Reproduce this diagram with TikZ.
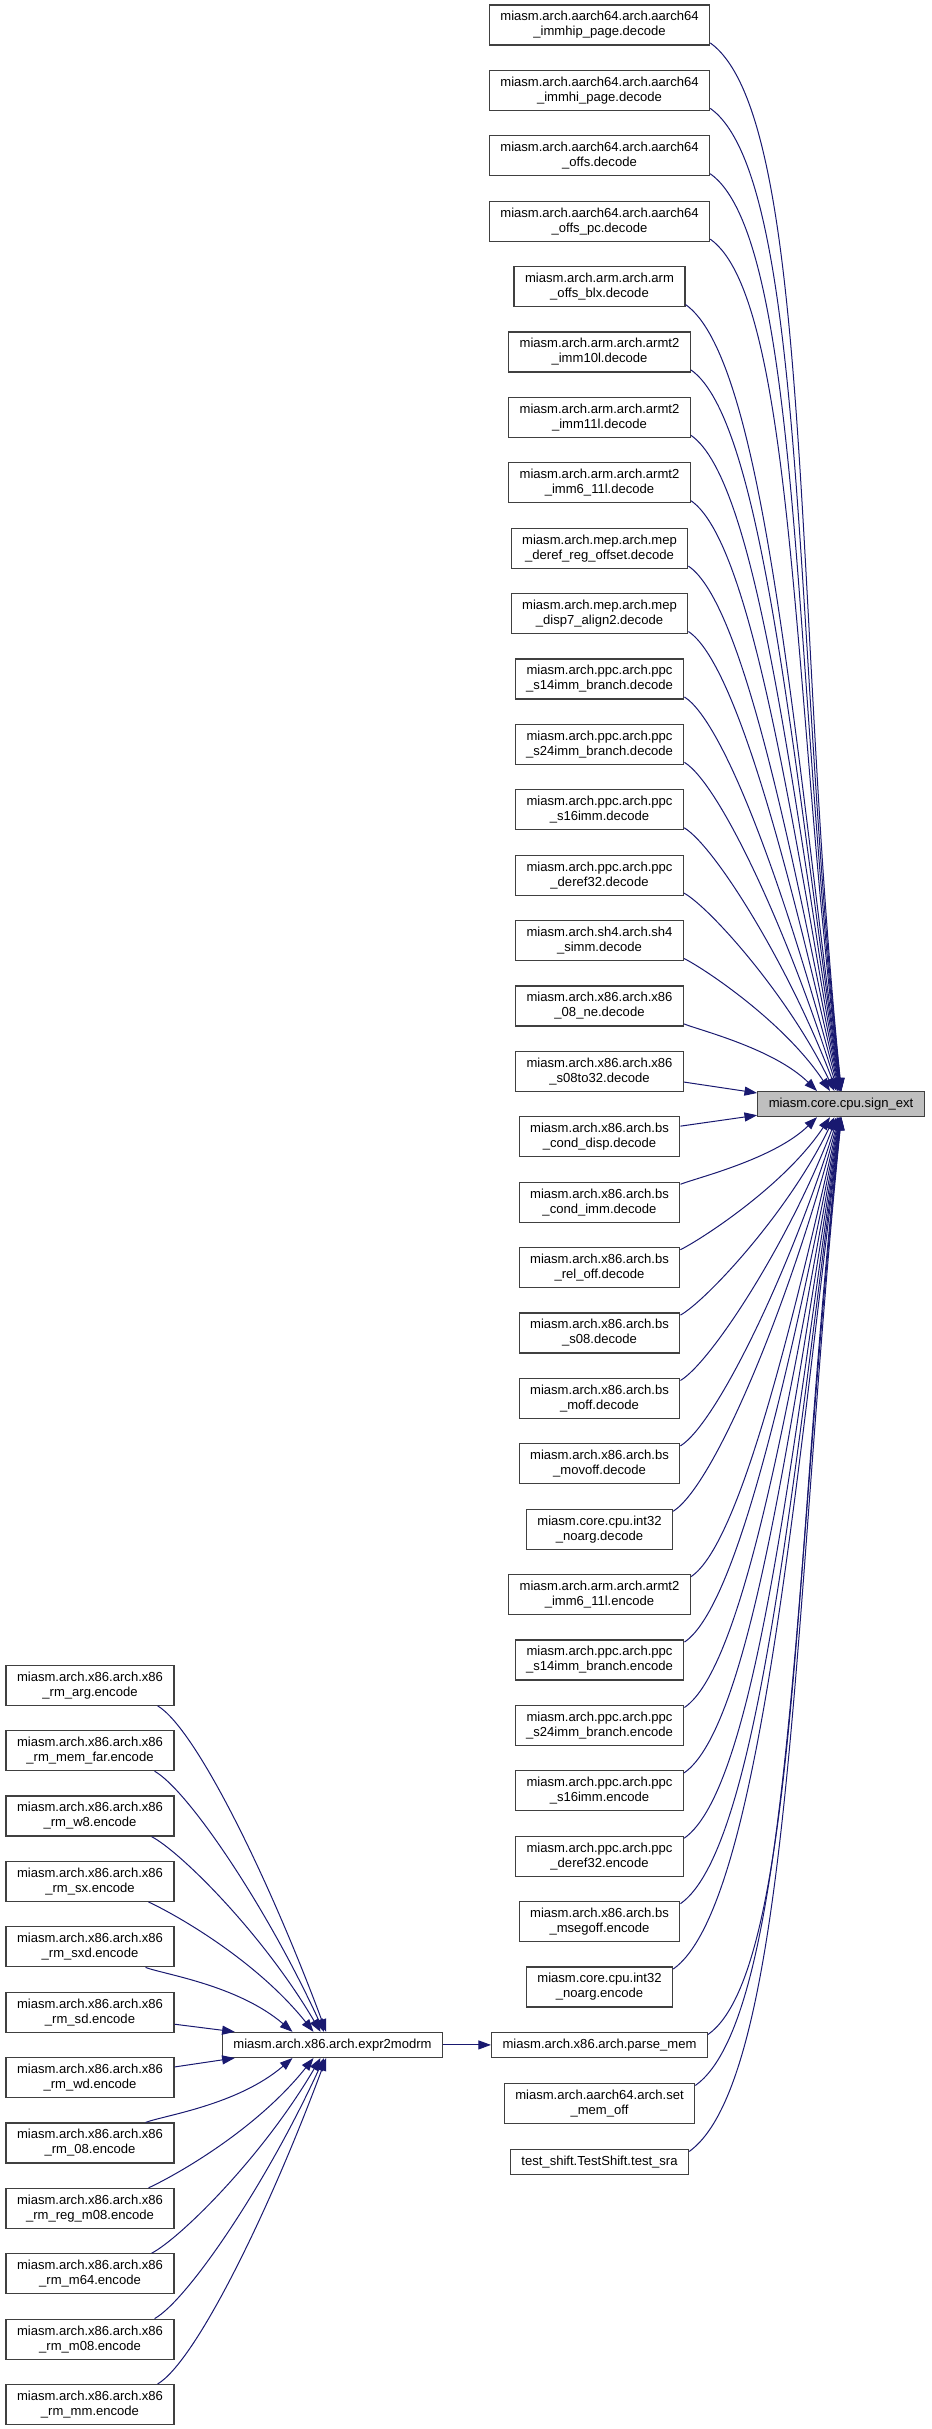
\documentclass[tikz,border=0pt]{standalone}
\usepackage{fontspec}
\setmainfont{Liberation Sans}
\usetikzlibrary{arrows.meta}
\definecolor{callblue}{RGB}{25,25,112}
\definecolor{focusgray}{RGB}{191,191,191}

\newcommand{\callcurve}[4]{%
  \pgfmathsetmacro\cvsg{(#4)/abs(#4)}%
  \pgfmathsetmacro\cvla{atan2(-(#4),#3)}%
  \pgfmathsetmacro\cvba{atan2(#4,-(#3))}%
  \pgfmathsetmacro\cvout{0.25*\cvla-15*\cvsg}%
  \pgfmathsetmacro\cvin{\cvba+0.25*(90*\cvsg-\cvba)}%
  \pgfmathsetmacro\cvlen{0.75*veclen(#3,#4)}%
  \pgfmathsetmacro\cvda{0.12*\cvlen}%
  \pgfmathsetmacro\cvdb{0.45*\cvlen}%
  \draw[call] (#1) to[out=\cvout,in=\cvin,out distance=\cvda pt,in distance=\cvdb pt] (#2);}

\begin{document}
\begin{tikzpicture}[x=0.75pt,y=-0.75pt,->,>={Triangle[length=9.5pt,width=6.8pt]}]
  \tikzstyle{fn}=[draw=black!75,line width=0.9pt,fill=white,align=center,
    font=\fontsize{9.8}{11.25}\selectfont,inner xsep=8.25pt,inner ysep=0pt,minimum height=30pt]
  \tikzstyle{fn1}=[fn,minimum height=18.75pt]
  \tikzstyle{call}=[draw=callblue,line width=0.75pt]

  \useasboundingbox (0,0) rectangle (931,2429);

  \node[fn1,fill=focusgray] (S) at (841,1104.1) {miasm.core.cpu.sign\_ext};
  \node[fn1] (E) at (332.5,2044.9) {miasm.arch.x86.arch.expr2modrm};

  \foreach \n/\y/\t in {
    r1/25/{miasm.arch.aarch64.arch.aarch64\\\_immhip\_page.decode},
    r2/90.4/{miasm.arch.aarch64.arch.aarch64\\\_immhi\_page.decode},
    r3/155.8/{miasm.arch.aarch64.arch.aarch64\\\_offs.decode},
    r4/221.2/{miasm.arch.aarch64.arch.aarch64\\\_offs\_pc.decode},
    r5/286.6/{miasm.arch.arm.arch.arm\\\_offs\_blx.decode},
    r6/352/{miasm.arch.arm.arch.armt2\\\_imm10l.decode},
    r7/417.4/{miasm.arch.arm.arch.armt2\\\_imm11l.decode},
    r8/482.8/{miasm.arch.arm.arch.armt2\\\_imm6\_11l.decode},
    r9/548.2/{miasm.arch.mep.arch.mep\\\_deref\_reg\_offset.decode},
    r10/613.6/{miasm.arch.mep.arch.mep\\\_disp7\_align2.decode},
    r11/679/{miasm.arch.ppc.arch.ppc\\\_s14imm\_branch.decode},
    r12/744.4/{miasm.arch.ppc.arch.ppc\\\_s24imm\_branch.decode},
    r13/809.8/{miasm.arch.ppc.arch.ppc\\\_s16imm.decode},
    r14/875.2/{miasm.arch.ppc.arch.ppc\\\_deref32.decode},
    r15/940.6/{miasm.arch.sh4.arch.sh4\\\_simm.decode},
    r16/1006/{miasm.arch.x86.arch.x86\\\_08\_ne.decode},
    r17/1071.4/{miasm.arch.x86.arch.x86\\\_s08to32.decode},
    r18/1136.8/{miasm.arch.x86.arch.bs\\\_cond\_disp.decode},
    r19/1202.2/{miasm.arch.x86.arch.bs\\\_cond\_imm.decode},
    r20/1267.6/{miasm.arch.x86.arch.bs\\\_rel\_off.decode},
    r21/1333/{miasm.arch.x86.arch.bs\\\_s08.decode},
    r22/1398.4/{miasm.arch.x86.arch.bs\\\_moff.decode},
    r23/1463.8/{miasm.arch.x86.arch.bs\\\_movoff.decode},
    r24/1529.2/{miasm.core.cpu.int32\\\_noarg.decode},
    r25/1594.6/{miasm.arch.arm.arch.armt2\\\_imm6\_11l.encode},
    r26/1660/{miasm.arch.ppc.arch.ppc\\\_s14imm\_branch.encode},
    r27/1725.4/{miasm.arch.ppc.arch.ppc\\\_s24imm\_branch.encode},
    r28/1790.8/{miasm.arch.ppc.arch.ppc\\\_s16imm.encode},
    r29/1856.2/{miasm.arch.ppc.arch.ppc\\\_deref32.encode},
    r30/1921.6/{miasm.arch.x86.arch.bs\\\_msegoff.encode},
    r31/1987/{miasm.core.cpu.int32\\\_noarg.encode},
    r33/2103.4/{miasm.arch.aarch64.arch.set\\\_mem\_off}}
    \node[fn] (\n) at (599.5,\y) {\t};
  \node[fn1] (r32) at (599.5,2044.9) {miasm.arch.x86.arch.parse\_mem};
  \node[fn1] (r34) at (599.5,2161.9) {test\_shift.TestShift.test\_sra};

  \foreach \j/\t in {1/arg,2/mem\_far,3/w8,4/sx,5/sxd,6/sd,7/wd,8/08,9/reg\_m08,10/m64,11/m08,12/mm}
    \node[fn] (l\j) at (90,2044.9+65.4*\j-425.1) {miasm.arch.x86.arch.x86\\\_rm\_\t.encode};

  \foreach \i in {1,...,16}{
    \pgfmathsetmacro\cof{2-26/(17-\i)}
    \pgfmathsetmacro\cxo{0.75*\cof}
    \pgfmathsetmacro\cdx{141+\cof}
    \pgfmathsetmacro\cdy{1092-(45+(\i-1)*65.4)}
    \callcurve{[yshift=2pt]r\i.south east}{[xshift=\cxo pt]S.north}{\cdx}{\cdy}
  }
  \foreach \i in {19,...,34}{
    \pgfmathsetmacro\cof{2-26/(\i-18)}
    \pgfmathsetmacro\cxo{0.75*\cof}
    \pgfmathsetmacro\cdx{141+\cof}
    \pgfmathsetmacro\cdy{1117-(5+(\i-1)*65.4)}
    \callcurve{[yshift=-2pt]r\i.north east}{[xshift=\cxo pt]S.south}{\cdx}{\cdy}
  }
  \draw[call] ([yshift=-8pt]r17.east) -- ([yshift=-1.5pt]S.north west);
  \draw[call] ([yshift=8pt]r18.east) -- ([yshift=1.5pt]S.south west);

  \foreach \j in {1,...,5}{
    \pgfmathsetmacro\cof{2-42/(6-\j)}
    \pgfmathsetmacro\cxo{0.75*\cof}
    \pgfmathsetmacro\csx{-0.75*(14+3*\j)}
    \pgfmathsetmacro\cdx{332.5+\cof-161+3*\j}
    \pgfmathsetmacro\cdy{2032-(2044.9+(\j-6.5)*65.4+20)}
    \callcurve{[xshift=\csx pt]l\j.south east}{[xshift=\cxo pt]E.north}{\cdx}{\cdy}
  }
  \foreach \j in {8,...,12}{
    \pgfmathsetmacro\cof{2-42/(\j-7)}
    \pgfmathsetmacro\cxo{0.75*\cof}
    \pgfmathsetmacro\csx{-0.75*(14+3*(13-\j))}
    \pgfmathsetmacro\cdx{332.5+\cof-161+3*(13-\j)}
    \pgfmathsetmacro\cdy{2057-(2044.9+(\j-6.5)*65.4-20)}
    \callcurve{[xshift=\csx pt]l\j.north east}{[xshift=\cxo pt]E.south}{\cdx}{\cdy}
  }
  \draw[call] ([yshift=-9pt]l6.east) -- ([xshift=9.75pt]E.north west);
  \draw[call] ([yshift=8pt]l7.east) -- ([xshift=9.75pt]E.south west);
  \draw[call] (E) -- (r32);
\end{tikzpicture}
\end{document}
